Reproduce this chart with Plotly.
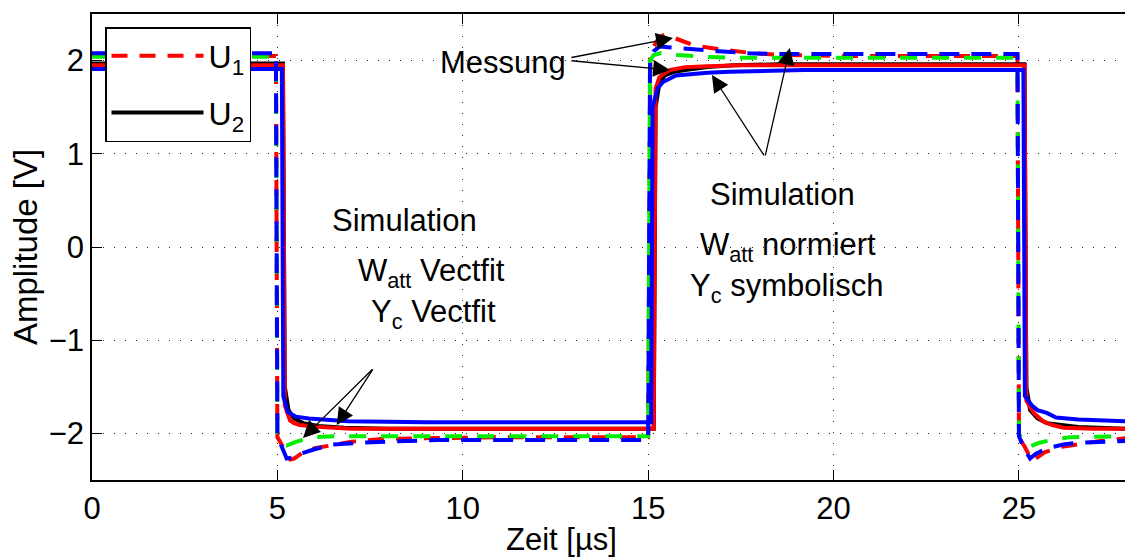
import plotly.graph_objects as go

# ---------------- data ----------------
# U1 Messung (red dashed)
t_u1_mess = [0, 4.96, 5.0, 5.15, 5.35, 5.45, 5.7, 6.0, 6.5, 7.0, 7.8, 9.0, 11, 15.0, 15.06, 15.15, 15.3, 15.45,
             15.8, 16.2, 16.6, 17.2, 17.8, 18.6, 20, 24.96, 25.0, 25.15, 25.35, 25.45, 25.7, 26.2, 26.7, 27.2, 27.9]
v_u1_mess = [2.05, 2.05, -2.04, -2.14, -2.28, -2.27, -2.2, -2.16, -2.12, -2.09, -2.06, -2.05, -2.04, -2.04, 2.05,
             2.15, 2.25, 2.28, 2.23, 2.17, 2.14, 2.11, 2.08, 2.06, 2.05, 2.05, -2.04, -2.14, -2.29, -2.27, -2.2,
             -2.14, -2.11, -2.08, -2.05]

# U2 Messung (black solid)
t_u2_mess = [0, 5.15, 5.2, 5.3, 5.45, 5.7, 6.1, 6.8, 8, 15.15, 15.2, 15.3, 15.45, 15.7, 16.0, 16.6, 17.3, 18.5,
             25.15, 25.2, 25.3, 25.5, 25.75, 26.1, 26.6, 27.9]
v_u2_mess = [1.97, 1.97, -1.5, -1.75, -1.84, -1.89, -1.92, -1.94, -1.95, -1.95, 1.5, 1.75, 1.84, 1.88, 1.9, 1.93,
             1.95, 1.96, 1.96, -1.5, -1.75, -1.84, -1.89, -1.91, -1.93, -1.95]

# U1 Simulation W_att Vectfit / Y_c Vectfit (green dashed)
t_u1_vf = [0, 4.96, 5.0, 5.1, 5.25, 5.5, 5.95, 6.5, 8, 15.0, 15.05, 15.15, 15.35, 15.8, 16.5, 17.5, 20, 24.96,
           25.0, 25.1, 25.3, 25.55, 26.0, 26.4, 27.9]
v_u1_vf = [2.04, 2.04, -2.0, -2.08, -2.13, -2.09, -2.04, -2.03, -2.03, -2.03, 2.0, 2.06, 2.08, 2.06, 2.04, 2.03,
           2.03, 2.03, -2.0, -2.08, -2.14, -2.1, -2.06, -2.04, -2.03]

# U2 Simulation W_att Vectfit / Y_c Vectfit (red solid)
t_u2_vf = [0, 5.15, 5.2, 5.34, 5.45, 5.6, 6.05, 7, 15.15, 15.2, 15.3, 15.45, 15.6, 16.0, 16.6, 17.5, 25.15,
           25.2, 25.4, 25.65, 25.9, 26.2, 27.0, 27.9]
v_u2_vf = [1.95, 1.95, -1.7, -1.86, -1.89, -1.91, -1.93, -1.95, -1.95, 1.7, 1.82, 1.87, 1.9, 1.93, 1.94, 1.95,
           1.95, -1.65, -1.78, -1.87, -1.91, -1.94, -1.95, -1.95]

# U1 Simulation W_att normiert / Y_c symbolisch (blue dashed)
t_u1_norm = [0, 4.96, 5.0, 5.12, 5.25, 5.4, 5.6, 6.0, 6.5, 7.2, 8.1, 9.3, 11, 15.0, 15.05, 15.15, 15.3, 15.6,
             16.1, 16.9, 17.7, 18.5, 20, 24.96, 25.0, 25.12, 25.3, 25.45, 25.75, 26.2, 26.6, 27.5, 27.9]
v_u1_norm = [2.08, 2.08, -2.03, -2.15, -2.27, -2.26, -2.22, -2.17, -2.12, -2.1, -2.09, -2.07, -2.07, -2.07,
             2.0, 2.1, 2.15, 2.14, 2.12, 2.1, 2.08, 2.07, 2.07, 2.07, -2.03, -2.15, -2.27, -2.22, -2.16,
             -2.12, -2.1, -2.09, -2.08]

# U2 Simulation W_att normiert / Y_c symbolisch (blue solid)
t_u2_norm = [0, 5.12, 5.16, 5.28, 5.5, 5.85, 6.9, 9, 15.08, 15.12, 15.25, 15.4, 15.75, 16.6, 17.2, 19.2,
             25.12, 25.16, 25.35, 25.5, 25.75, 26.0, 26.6, 27.9]
v_u2_norm = [1.91, 1.91, -1.6, -1.77, -1.82, -1.84, -1.87, -1.88, -1.88, 1.5, 1.7, 1.77, 1.84, 1.87, 1.88, 1.9,
             1.9, -1.6, -1.7, -1.75, -1.78, -1.83, -1.85, -1.87]

x_ticks = [0, 5, 10, 15, 20, 25]
y_ticks = [-2, -1, 0, 1, 2]

FONT = "Liberation Sans, Arial, sans-serif"
FS = 31

fig = go.Figure()

fig.add_trace(go.Scatter(x=t_u1_mess, y=v_u1_mess, mode="lines", name="U<sub>1</sub>",
                         line=dict(color="#ff0000", width=4, dash="16px,12px"), legendgroup="a"))
fig.add_trace(go.Scatter(x=t_u2_mess, y=v_u2_mess, mode="lines", name="U<sub>2</sub>",
                         line=dict(color="#000000", width=4), legendgroup="b"))
fig.add_trace(go.Scatter(x=t_u1_vf, y=v_u1_vf, mode="lines", showlegend=False,
                         line=dict(color="#00ee00", width=4, dash="17px,15px")))
fig.add_trace(go.Scatter(x=t_u2_vf, y=v_u2_vf, mode="lines", showlegend=False,
                         line=dict(color="#ff0000", width=4)))
fig.add_trace(go.Scatter(x=t_u1_norm, y=v_u1_norm, mode="lines", showlegend=False,
                         line=dict(color="#0000ff", width=4, dash="20px,12px")))
fig.add_trace(go.Scatter(x=t_u2_norm, y=v_u2_norm, mode="lines", showlegend=False,
                         line=dict(color="#0000ff", width=4)))

annotations = []
def txt(x, y, s, xref="x", yref="y", size=FS, **kw):
    annotations.append(dict(x=x, y=y, xref=xref, yref=yref, text=s, showarrow=False,
                            font=dict(family=FONT, size=size, color="black"),
                            xanchor="center", yanchor="middle", **kw))

def arrow(x, y, ax, ay):
    annotations.append(dict(x=x, y=y, ax=ax, ay=ay, xref="x", yref="y", axref="x", ayref="y",
                            text="", showarrow=True, arrowhead=2, arrowsize=2.6, arrowwidth=1.3,
                            arrowcolor="black", standoff=0, startstandoff=0))

txt(11.08, 1.985, "Messung")
txt(18.61, 0.56, "Simulation")
txt(18.77, 0.0, "W<sub>att</sub> normiert")
txt(18.72, -0.44, "Y<sub>c</sub> symbolisch")
txt(8.44, 0.28, "Simulation")
txt(9.15, -0.28, "W<sub>att</sub> Vectfit")
txt(9.22, -0.72, "Y<sub>c</sub> Vectfit")

# x-axis title (centred as in the reference)
txt((561 - 92) / (1125 - 92), -0.127, "Zeit [µs]", xref="paper", yref="paper", size=31)

arrow(15.67, 2.242, 12.89, 2.03)
arrow(15.59, 1.899, 12.89, 2.0)
arrow(16.72, 1.845, 18.15, 0.966)
arrow(18.82, 2.135, 18.15, 0.966)
arrow(5.69, -2.049, 7.6, -1.298)
arrow(6.6, -1.91, 7.6, -1.298)

fig.update_layout(
    width=1125, height=558,
    margin=dict(l=92, r=0, t=14, b=78),
    paper_bgcolor="white", plot_bgcolor="white",
    font=dict(family=FONT, size=FS, color="black"),
    annotations=annotations,
    showlegend=True,
    legend=dict(x=0.0126, y=0.972, xanchor="left", yanchor="top",
                bgcolor="white", bordercolor="black", borderwidth=1.5,
                font=dict(family=FONT, size=32, color="black"),
                itemwidth=92, tracegroupgap=12, traceorder="grouped"),
    xaxis=dict(range=[0, 27.86], tickvals=x_ticks, ticktext=[str(v) for v in x_ticks],
               ticks="inside", ticklen=10, tickcolor="black", tickwidth=1,
               showline=True, linecolor="black", linewidth=1.5, mirror="ticks",
               showgrid=True, gridcolor="#222", gridwidth=1, griddash="1px,10px",
               zeroline=False, tickfont=dict(size=FS)),
    yaxis=dict(range=[-2.5, 2.5], tickvals=y_ticks, ticktext=["\u22122", "\u22121", "0", "1", "2"],
               ticks="inside", ticklen=10, tickcolor="black", tickwidth=1,
               showline=True, linecolor="black", linewidth=1.5, mirror=False,
               showgrid=True, gridcolor="#222", gridwidth=1, griddash="1px,10px",
               zeroline=False, tickfont=dict(size=FS),
               title=dict(text="Amplitude [V]", font=dict(size=33), standoff=1)),
)

fig.write_html("out.html")
